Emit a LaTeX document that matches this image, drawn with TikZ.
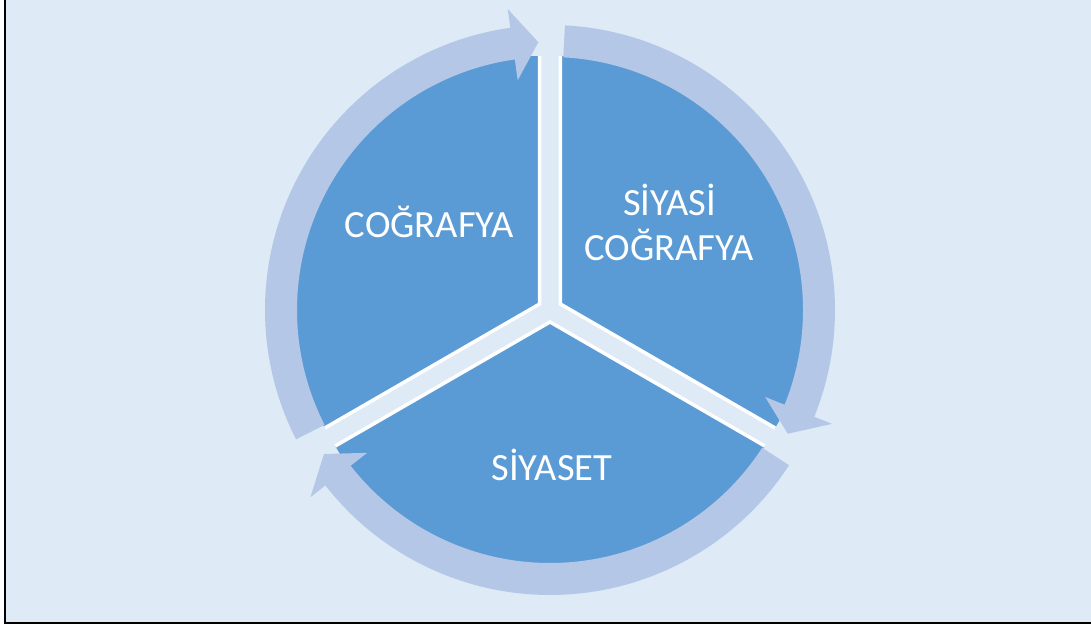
\documentclass[tikz,border=0pt]{standalone}
\usepackage{fontspec}
\setmainfont{Carlito}
\usetikzlibrary{calc}
\definecolor{bgc}{HTML}{DEEAF6}
\definecolor{piec}{HTML}{5B9BD5}
\definecolor{ringc}{HTML}{B4C7E7}
\begin{document}
\begin{tikzpicture}[x=1pt,y=1pt,
  lbl/.style={text=white,font=\fontsize{38.5}{45}\selectfont,inner sep=0pt,anchor=base},
  sector/.style={fill=piec},
  edge/.style={draw=white,line width=3.5pt,line join=miter},
  arc arrow/.style={fill=ringc}]
\useasboundingbox (0,0) rectangle (1091,628);
\fill[white] (0,0) rectangle (1091,628);
\fill[bgc] (5,5) rectangle (1091,628);
\draw[black,line width=2pt] (5,628) -- (5,5) -- (1091,5);
\coordinate (C) at (550,318);
% pie sectors
\foreach \t in {150,30,270} {
  \fill[sector] ($(C)+(\t:12)$) -- ++(\t-60:248) arc[start angle=\t-60,end angle=\t+60,radius=248] -- cycle;
  \draw[edge] ($(C)+(\t:12)+(\t-60:248)$) -- ($(C)+(\t:12)$) -- ($(C)+(\t:12)+(\t+60:248)$);
}
% arc arrows
\foreach \a/\tp in {87/-27.5,-33/-147.5,207/92.5} {
  \fill[arc arrow] ($(C)+(\a:285)$) arc[start angle=\a,end angle=\tp+5.5,radius=285]
    -- ($(C)+(\tp+5.5:304)$) -- ($(C)+(\tp:268)$) -- ($(C)+(\tp+5.5:232)$)
    -- ($(C)+(\tp+5.5:253)$) arc[start angle=\tp+5.5,end angle=\a,radius=253] -- cycle;
}
\node[lbl] (geo) at (429.5,390) {COĞRAFYA};
\node[lbl] (sc1) at (669.5,412) {SİYASİ};
\node[lbl] (sc2) at (669,367) {COĞRAFYA};
\node[lbl] (siy) at (552,147) {SİYASET};
\end{tikzpicture}
\end{document}
